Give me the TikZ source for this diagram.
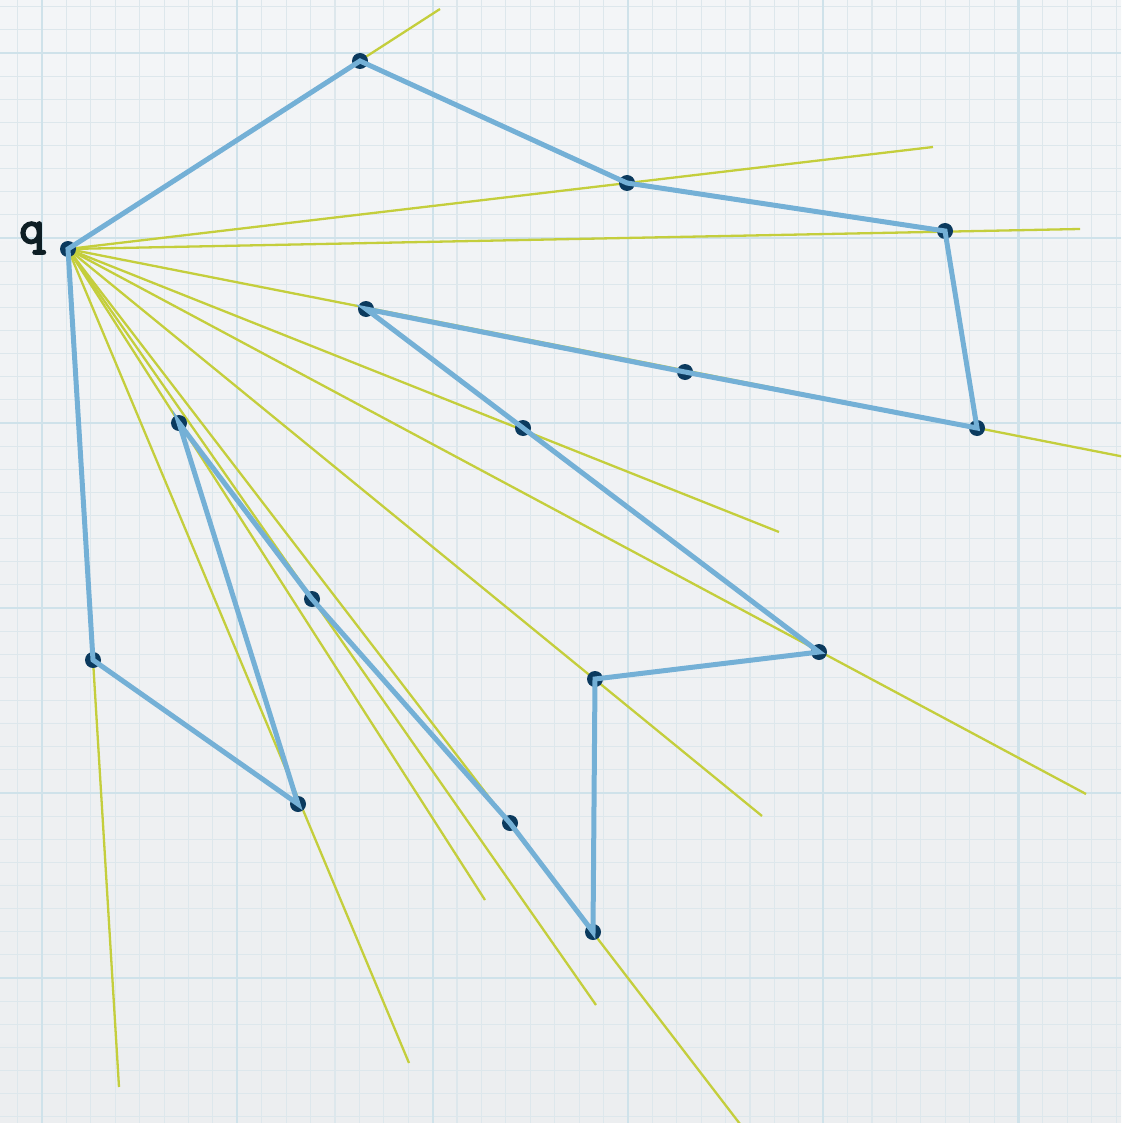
\documentclass[tikz,border=0pt]{standalone}
\usepackage{fontspec}
\newfontfamily\labelfont[FakeBold=4]{lmmono10-regular.otf}
\definecolor{bgtop}{HTML}{F3F5F7}
\definecolor{bgbot}{HTML}{ECEEF0}
\definecolor{gridminor}{HTML}{DDE7EC}
\definecolor{gridmajor}{HTML}{CFE2EA}
\definecolor{raycol}{HTML}{C4CE3C}
\definecolor{polycol}{HTML}{74B0D6}
\definecolor{dotcol}{HTML}{0B3A5E}
\definecolor{labelcol}{HTML}{0E1E24}
\begin{document}
\begin{tikzpicture}[x=1pt,y=-1pt,
  gminor/.style={draw=gridminor,line width=1.1pt},
  gmajor/.style={draw=gridmajor,line width=2.2pt},
  ray/.style={draw=raycol,line width=2.3pt},
  poly/.style={draw=polycol,line width=5pt,line join=miter},
  vdot/.style={circle,fill=dotcol,inner sep=0pt,minimum size=16pt},
  lbl/.style={font=\labelfont\fontsize{48}{48}\selectfont,text=labelcol,inner sep=0pt}]
\useasboundingbox (0,0) rectangle (1121,1123);
\clip (0,0) rectangle (1121,1123);
\shade[top color=bgtop,bottom color=bgbot] (0,0) rectangle (1121,1123);
% grid
\foreach \i in {-2,...,46} {
  \pgfmathsetmacro\gx{42+\i*24.4125}
  \draw[gminor] (\gx,0) -- (\gx,1123);
}
\foreach \i in {-3,...,47} {
  \pgfmathsetmacro\gy{53+\i*23.125}
  \draw[gminor] (0,\gy) -- (1121,\gy);
}
\foreach \i in {0,...,5} {
  \pgfmathsetmacro\gx{42+\i*195.3}
  \draw[gmajor] (\gx,0) -- (\gx,1123);
}
\foreach \i in {0,...,5} {
  \pgfmathsetmacro\gy{53+\i*185}
  \draw[gmajor] (0,\gy) -- (1121,\gy);
}
% vertices
\coordinate (pq) at (68,249);
\coordinate (pA) at (360,61);
\coordinate (pB) at (627,183);
\coordinate (pC) at (945,231);
\coordinate (pD) at (977,428);
\coordinate (pE) at (685,372);
\coordinate (pF) at (366,309);
\coordinate (pG) at (523,428);
\coordinate (pH) at (819,652);
\coordinate (pI) at (595,679);
\coordinate (pJ) at (593,932);
\coordinate (pK) at (510,823);
\coordinate (pL) at (312,599);
\coordinate (pM) at (179,423);
\coordinate (pN) at (298,804);
\coordinate (pO) at (93,660);
% ray ends
\coordinate (eA) at (440,9);
\coordinate (eB) at (933,147);
\coordinate (eC) at (1080,229);
\coordinate (eD) at (1135,459);
\coordinate (eG) at (779,532);
\coordinate (eH) at (1086,794);
\coordinate (eI) at (762,816);
\coordinate (eJ) at (750,1137);
\coordinate (eL) at (596,1005);
\coordinate (eM) at (485,900);
\coordinate (eN) at (409,1063);
\coordinate (eO) at (119,1087);
% rays
\foreach \e in {eA,eB,eC,eD,eG,eH,eI,eJ,eL,eM,eN,eO}
  \draw[ray] (pq) -- (\e);
% dots
\foreach \v in {q,A,B,C,D,E,F,G,H,I,J,K,L,M,N,O}
  \node[vdot] (n\v) at (p\v) {};
% polygon
\draw[poly] (nq.center) -- (nA.center) -- (nB.center) -- (nC.center) -- (nD.center)
  -- (nE.center) -- (nF.center) -- (nG.center) -- (nH.center) -- (nI.center)
  -- (nJ.center) -- (nK.center) -- (nL.center) -- (nM.center) -- (nN.center)
  -- (nO.center) -- cycle;
% label
\node[lbl] (lq) at (32,238) {q};
\end{tikzpicture}
\end{document}
